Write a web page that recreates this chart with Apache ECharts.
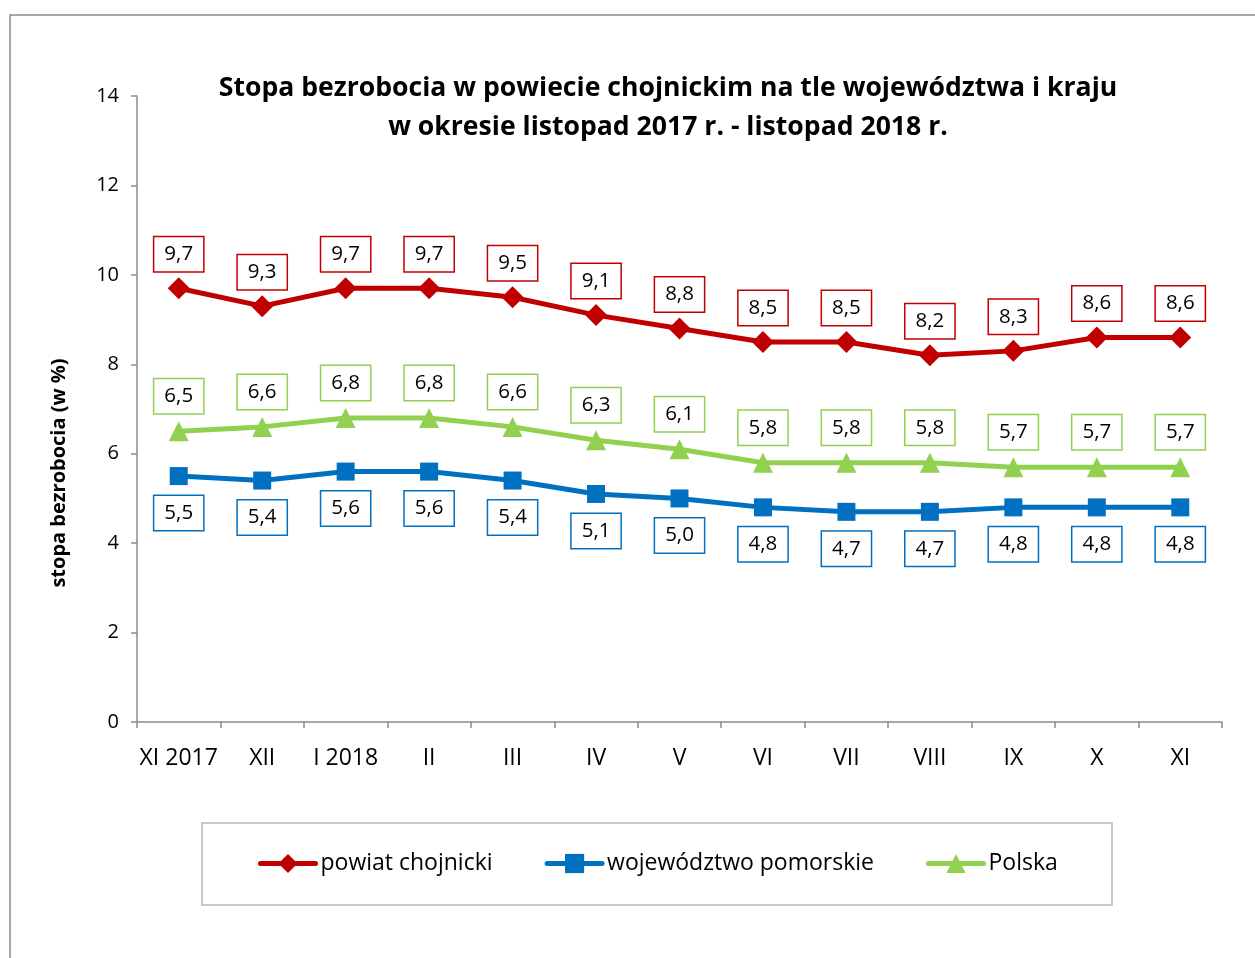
<!DOCTYPE html>
<html><head><meta charset="utf-8">
<script src="https://cdn.jsdelivr.net/npm/echarts@6/dist/echarts.min.js"></script>
<style>html,body{margin:0;padding:0;background:#fff}#c{width:1255px;height:958px}</style>
</head><body><div id="c"></div>
<script>
const categories = ['XI 2017','XII','I 2018','II','III','IV','V','VI','VII','VIII','IX','X','XI'];
const powiat = [9.7,9.3,9.7,9.7,9.5,9.1,8.8,8.5,8.5,8.2,8.3,8.6,8.6];
const wojewodztwo = [5.5,5.4,5.6,5.6,5.4,5.1,5.0,4.8,4.7,4.7,4.8,4.8,4.8];
const polska = [6.5,6.6,6.8,6.8,6.6,6.3,6.1,5.8,5.8,5.8,5.7,5.7,5.7];
const seriesNames = ['powiat chojnicki','województwo pomorskie','Polska'];
const titleLines = ['Stopa bezrobocia w powiecie chojnickim na tle województwa i kraju','w okresie listopad 2017 r. - listopad 2018 r.'];
const yName = 'stopa bezrobocia (w %)';

const FONT = '"Open Sans", sans-serif';
const fmt = p => String(p.value.toFixed(1)).replace('.', ',');
function lbl(color, pos, dist){
  return {show:true, position:pos, distance:dist, formatter:fmt, color:'#000',
    fontFamily:FONT, fontSize:20.5, lineHeight:22, backgroundColor:'#fff',
    borderColor:color, borderWidth:1.5, padding:[6,10,6,10]};
}
const chart = echarts.init(document.getElementById('c'));
chart.setOption({
  animation:false,
  textStyle:{fontFamily:FONT},
  graphic:[
    {type:'rect', shape:{x:10,y:15,width:1400,height:1100}, style:{fill:'none',stroke:'#8c8c8c',lineWidth:1.5}, z:-10},
    {type:'rect', shape:{x:202,y:823,width:910,height:82}, style:{fill:'#fff',stroke:'#c8c8c8',lineWidth:2}, z:-5},
    {type:'text', x:668, y:69, style:{text:titleLines.join('\n'), textAlign:'center', fill:'#000', font:'bold 26.6px "Open Sans", sans-serif', lineHeight:39}},
    {type:'text', x:59, y:473, rotation:Math.PI/2, style:{text:yName, textAlign:'center', textVerticalAlign:'middle', fill:'#000', font:'bold 20px "Open Sans", sans-serif'}}
  ],
  grid:{left:137, right:33, top:96, bottom:236, containLabel:false},
  legend:{left:258, top:852, padding:0, itemWidth:55, itemHeight:24, itemGap:52,
    lineStyle:{width:5, cap:'round'},
    textStyle:{fontSize:23, color:'#000', fontFamily:FONT},
    data:seriesNames},
  xAxis:{type:'category', data:categories, boundaryGap:true,
    axisLine:{lineStyle:{color:'#8c8c8c', width:1.5}},
    axisTick:{show:true, length:6, lineStyle:{color:'#8c8c8c', width:1.5}},
    axisLabel:{color:'#000', fontSize:23, margin:25, interval:0, fontFamily:FONT}},
  yAxis:{type:'value', min:0, max:14, interval:2,
    axisLine:{show:true, lineStyle:{color:'#8c8c8c', width:1.5}},
    axisTick:{show:true, length:6, lineStyle:{color:'#8c8c8c', width:1.5}},
    splitLine:{show:false},
    axisLabel:{color:'#000', fontSize:20, margin:18, fontFamily:FONT}},
  series:[
    {name:seriesNames[0], type:'line', data:powiat, symbol:'diamond', symbolSize:22,
      lineStyle:{color:'#C00000', width:5}, itemStyle:{color:'#C00000'},
      label:lbl('#C00000','top',6)},
    {name:seriesNames[1], type:'line', data:wojewodztwo, symbol:'rect', symbolSize:18,
      lineStyle:{color:'#0070C0', width:5}, itemStyle:{color:'#0070C0'},
      label:lbl('#0070C0','bottom',11)},
    {name:seriesNames[2], type:'line', data:polska, symbol:'triangle', symbolSize:20,
      lineStyle:{color:'#92D050', width:5}, itemStyle:{color:'#92D050'},
      label:lbl('#92D050','top',8)}
  ]
});
</script></body></html>
